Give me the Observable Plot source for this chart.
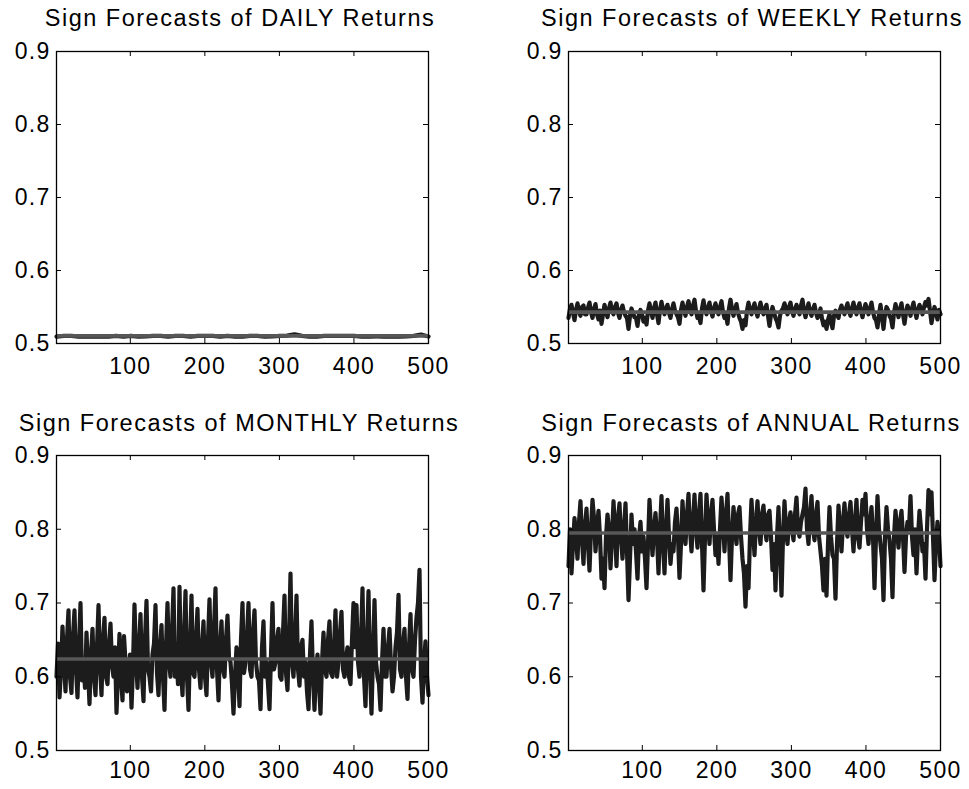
<!DOCTYPE html>
<html><head><meta charset="utf-8">
<script src="https://cdn.jsdelivr.net/npm/d3@7"></script>
<script src="https://cdn.jsdelivr.net/npm/@observablehq/plot@0.6"></script>
<style>
body{margin:0;background:#fff;}
#root{position:relative;width:969px;height:789px;background:#fff;font-family:"Liberation Sans",Arial,sans-serif;overflow:hidden}
.title{position:absolute;width:500px;text-align:center;font-size:23.5px;line-height:23px;letter-spacing:1.5px;color:#000;white-space:nowrap}
.panel{position:absolute}
</style></head><body><div id="root"></div>
<script>
const titles = ["Sign Forecasts of DAILY Returns","Sign Forecasts of WEEKLY Returns","Sign Forecasts of MONTHLY Returns","Sign Forecasts of ANNUAL Returns"];
const yTicks = [0.5,0.6,0.7,0.8,0.9];
const xTicks = [100,200,300,400,500];
const xDomain = [1,500];

const daily = [0.5095,0.5105,0.5105,0.5095,0.5098,0.5095,0.5097,0.5095,0.5105,0.5095,
0.5105,0.5095,0.5097,0.5105,0.5105,0.5094,0.5105,0.5105,0.5094,0.5105,
0.5105,0.5105,0.5094,0.5105,0.5095,0.5095,0.5105,0.5105,0.5095,0.5096,
0.5105,0.5108,0.5125,0.5105,0.5095,0.5095,0.5105,0.5105,0.5105,0.5105,
0.5105,0.5095,0.5095,0.5096,0.5095,0.5097,0.5095,0.5096,0.5105,0.5122,0.5095];
const dailyMean = 0.5105;

const weekly = [0.535,0.548,0.553,0.542,0.532,0.546,0.555,0.544,0.538,0.550,0.552,0.540,0.540,0.549,0.556,0.543,0.535,0.547,0.554,0.540,
0.533,0.545,0.527,0.540,0.553,0.545,0.536,0.548,0.556,0.544,0.540,0.550,0.555,0.542,0.535,0.546,0.552,0.543,0.538,0.535,
0.520,0.538,0.548,0.542,0.536,0.535,0.524,0.540,0.546,0.540,0.530,0.535,0.526,0.545,0.555,0.545,0.535,0.548,0.556,0.540,
0.528,0.546,0.557,0.546,0.540,0.548,0.553,0.542,0.535,0.547,0.555,0.545,0.540,0.536,0.527,0.546,0.556,0.545,0.538,0.550,
0.558,0.545,0.540,0.552,0.560,0.544,0.535,0.537,0.528,0.548,0.559,0.546,0.540,0.549,0.556,0.544,0.537,0.548,0.555,0.546,
0.540,0.550,0.558,0.543,0.535,0.538,0.527,0.548,0.560,0.547,0.538,0.546,0.554,0.542,0.535,0.530,0.520,0.532,0.525,0.545,
0.556,0.546,0.540,0.548,0.555,0.544,0.537,0.547,0.556,0.546,0.540,0.548,0.553,0.538,0.524,0.540,0.550,0.542,0.535,0.530,
0.522,0.538,0.545,0.548,0.555,0.547,0.540,0.550,0.556,0.544,0.538,0.547,0.553,0.546,0.540,0.552,0.560,0.545,0.536,0.546,
0.555,0.543,0.538,0.547,0.553,0.542,0.535,0.540,0.548,0.534,0.525,0.530,0.520,0.532,0.540,0.530,0.521,0.538,0.545,0.540,
0.535,0.546,0.552,0.545,0.540,0.548,0.555,0.544,0.538,0.548,0.556,0.546,0.540,0.549,0.555,0.544,0.536,0.546,0.554,0.547,
0.540,0.548,0.556,0.543,0.535,0.532,0.522,0.540,0.553,0.536,0.520,0.540,0.550,0.546,0.538,0.534,0.522,0.542,0.554,0.545,
0.536,0.547,0.555,0.540,0.527,0.542,0.552,0.546,0.538,0.548,0.556,0.544,0.535,0.546,0.553,0.547,0.540,0.550,0.557,0.552,
0.561,0.545,0.528,0.540,0.550,0.542,0.533,0.546,0.540];
const weeklyMean = 0.543;

const monthly = [0.600,0.645,0.572,0.610,0.668,0.620,0.580,0.650,0.690,0.600,0.578,0.655,0.690,0.610,0.572,0.640,0.700,0.595,0.620,0.585,
0.660,0.610,0.563,0.630,0.665,0.600,0.575,0.640,0.697,0.615,0.575,0.650,0.680,0.600,0.590,0.645,0.672,0.615,0.600,0.640,
0.551,0.605,0.658,0.600,0.568,0.655,0.620,0.580,0.600,0.630,0.558,0.615,0.698,0.625,0.585,0.640,0.685,0.600,0.567,0.650,
0.703,0.610,0.600,0.580,0.630,0.645,0.697,0.605,0.575,0.640,0.670,0.600,0.555,0.640,0.700,0.620,0.600,0.660,0.720,0.600,
0.630,0.590,0.722,0.610,0.575,0.650,0.716,0.600,0.555,0.640,0.710,0.605,0.600,0.650,0.692,0.610,0.585,0.640,0.675,0.600,
0.575,0.650,0.705,0.620,0.600,0.665,0.720,0.610,0.568,0.640,0.675,0.610,0.600,0.650,0.683,0.625,0.620,0.590,0.550,0.600,
0.640,0.610,0.560,0.650,0.700,0.605,0.620,0.655,0.700,0.610,0.600,0.660,0.690,0.620,0.600,0.595,0.556,0.640,0.675,0.600,
0.620,0.590,0.556,0.630,0.700,0.610,0.620,0.650,0.665,0.600,0.596,0.660,0.710,0.605,0.582,0.650,0.740,0.620,0.600,0.650,
0.710,0.610,0.588,0.640,0.650,0.600,0.620,0.580,0.556,0.630,0.675,0.600,0.555,0.610,0.630,0.590,0.550,0.620,0.660,0.610,
0.600,0.650,0.675,0.605,0.600,0.640,0.690,0.600,0.620,0.660,0.688,0.610,0.600,0.625,0.640,0.600,0.590,0.650,0.700,0.640,
0.697,0.620,0.600,0.650,0.720,0.600,0.560,0.645,0.716,0.610,0.550,0.630,0.704,0.620,0.600,0.590,0.555,0.620,0.665,0.600,
0.600,0.640,0.665,0.615,0.580,0.600,0.640,0.660,0.711,0.610,0.600,0.645,0.665,0.600,0.570,0.640,0.685,0.610,0.600,0.650,
0.680,0.700,0.745,0.600,0.565,0.620,0.648,0.600,0.575];
const monthlyMean = 0.624;

const annual = [0.750,0.800,0.740,0.780,0.815,0.790,0.760,0.810,0.838,0.785,0.753,0.805,0.828,0.780,0.744,0.800,0.840,0.815,0.770,0.800,
0.825,0.790,0.733,0.760,0.720,0.790,0.820,0.800,0.747,0.790,0.838,0.800,0.750,0.815,0.835,0.790,0.760,0.800,0.835,0.770,
0.704,0.760,0.820,0.780,0.800,0.770,0.733,0.790,0.810,0.770,0.790,0.760,0.720,0.780,0.840,0.800,0.765,0.800,0.822,0.790,
0.740,0.800,0.845,0.780,0.740,0.800,0.840,0.790,0.753,0.780,0.770,0.810,0.828,0.790,0.734,0.780,0.838,0.800,0.780,0.820,
0.848,0.800,0.770,0.810,0.847,0.800,0.775,0.820,0.848,0.780,0.717,0.790,0.847,0.810,0.780,0.820,0.840,0.800,0.765,0.790,
0.753,0.800,0.843,0.810,0.770,0.820,0.848,0.790,0.731,0.790,0.830,0.800,0.780,0.820,0.830,0.790,0.760,0.740,0.695,0.750,
0.720,0.790,0.840,0.800,0.765,0.810,0.838,0.800,0.780,0.820,0.832,0.800,0.785,0.820,0.825,0.790,0.745,0.780,0.717,0.790,
0.830,0.770,0.710,0.790,0.838,0.800,0.780,0.810,0.823,0.800,0.785,0.820,0.843,0.800,0.790,0.810,0.820,0.830,0.855,0.800,
0.780,0.820,0.845,0.800,0.785,0.820,0.837,0.790,0.770,0.750,0.717,0.760,0.710,0.780,0.830,0.790,0.765,0.760,0.706,0.780,
0.832,0.800,0.770,0.810,0.835,0.800,0.790,0.820,0.837,0.800,0.770,0.810,0.840,0.790,0.775,0.810,0.840,0.820,0.848,0.800,
0.780,0.810,0.830,0.790,0.720,0.790,0.845,0.800,0.780,0.760,0.704,0.790,0.830,0.800,0.785,0.760,0.708,0.790,0.825,0.800,
0.775,0.810,0.825,0.790,0.742,0.790,0.810,0.800,0.845,0.790,0.765,0.800,0.740,0.790,0.825,0.800,0.770,0.780,0.733,0.800,
0.853,0.820,0.850,0.790,0.731,0.780,0.810,0.790,0.750];
const annualMean = 0.795;

const root = document.getElementById("root");

function panel(cfg) {
  const {values, mean, title, left, top, width, height, mt, mb, ml, mr, titleCx, titleTop, xPad} = cfg;
  const fw = width - ml - mr, fh = height - mt - mb;
  const n = values.length;
  const pts = values.map((v, i) => ({x: xDomain[0] + i * (xDomain[1] - xDomain[0]) / (n - 1), y: v}));
  const chart = Plot.plot({
    width, height,
    marginTop: mt, marginBottom: mb, marginLeft: ml, marginRight: mr,
    x: {domain: xDomain},
    y: {domain: [0.5, 0.9]},
    style: {fontFamily: "'Liberation Sans', Arial, sans-serif", fontSize: "23px", letterSpacing: "1.3px", overflow: "visible", background: "transparent", color: "#000"},
    marks: [
      Plot.line(pts, {x: "x", y: "y", stroke: "#1c1c1c", strokeWidth: 4.2, strokeLinejoin: "round", strokeLinecap: "round"}),
      Plot.ruleY([mean], {stroke: "#575757", strokeWidth: 3.6}),
      Plot.tickY(yTicks, {y: d => d, insetRight: fw - 5, stroke: "#000"}),
      Plot.tickY(yTicks, {y: d => d, insetLeft: fw - 5, stroke: "#000"}),
      Plot.tickX(xTicks, {x: d => d, insetTop: fh - 5, stroke: "#000"}),
      Plot.tickX(xTicks, {x: d => d, insetBottom: fh - 5, stroke: "#000"}),
      Plot.frame({stroke: "#000", strokeWidth: 1.3}),
      Plot.axisY(yTicks, {tickSize: 0, tickPadding: 6, tickFormat: d3.format(".1f"), fontSize: 23, label: null}),
      Plot.axisX(xTicks, {tickSize: 0, tickPadding: xPad, tickFormat: d => String(d), fontSize: 23, label: null})
    ]
  });
  const wrap = document.createElement("div");
  wrap.className = "panel";
  wrap.style.left = left + "px";
  wrap.style.top = top + "px";
  wrap.style.width = width + "px";
  wrap.appendChild(chart);
  root.appendChild(wrap);
  const t = document.createElement("div");
  t.className = "title";
  t.textContent = title;
  t.style.left = (titleCx - 250) + "px";
  t.style.top = titleTop + "px";
  root.appendChild(t);
}

panel({values: daily, mean: dailyMean, title: titles[0], left: 0, top: 35, width: 484, height: 350, mt: 16, mb: 42, ml: 56, mr: 56, titleCx: 240, titleTop: 7, xPad: 14});
panel({values: weekly, mean: weeklyMean, title: titles[1], left: 512, top: 35, width: 457, height: 350, mt: 16, mb: 42, ml: 56, mr: 29, titleCx: 752, titleTop: 7, xPad: 14});
panel({values: monthly, mean: monthlyMean, title: titles[2], left: 0, top: 439, width: 484, height: 350, mt: 16, mb: 39, ml: 56, mr: 56, titleCx: 239, titleTop: 412, xPad: 11});
panel({values: annual, mean: annualMean, title: titles[3], left: 512, top: 439, width: 457, height: 350, mt: 16, mb: 39, ml: 56, mr: 29, titleCx: 751, titleTop: 412, xPad: 11});
</script>
</body></html>
